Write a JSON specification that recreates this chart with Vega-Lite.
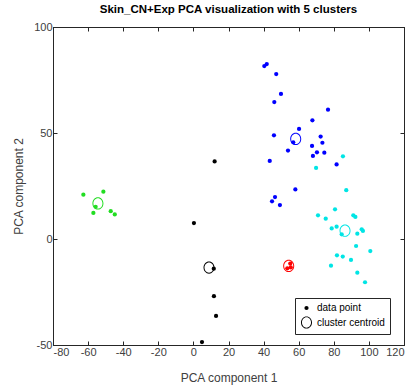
{
  "$schema": "https://vega.github.io/schema/vega-lite/v6.json",
  "autosize": "none",
  "width": 351,
  "height": 318,
  "padding": {"left": 53, "top": 27, "right": 11, "bottom": 43},
  "background": "white",
  "title": {"text": "Skin_CN+Exp PCA visualization with 5 clusters", "font": "Liberation Sans", "fontSize": 11.5, "fontWeight": "bold", "color": "black", "offset": 6},
  "config": {
    "view": {"stroke": "#262626", "strokeWidth": 1},
    "axis": {"grid": false, "domainColor": "#262626", "tickColor": "#262626", "labelFont": "Liberation Sans", "labelFontSize": 11, "labelColor": "#404040", "titleFont": "Liberation Sans", "titleFontSize": 12, "titleFontWeight": "normal", "titleColor": "#404040", "tickSize": -4, "labelPadding": 5}
  },
  "data": {"values": [
    {"x": 40.4, "y": 81.6, "cluster": "blue", "kind": "data point"},
    {"x": 41.8, "y": 82.5, "cluster": "blue", "kind": "data point"},
    {"x": 47.2, "y": 77.8, "cluster": "blue", "kind": "data point"},
    {"x": 49.9, "y": 68.4, "cluster": "blue", "kind": "data point"},
    {"x": 46.1, "y": 64.6, "cluster": "blue", "kind": "data point"},
    {"x": 76.7, "y": 61.0, "cluster": "blue", "kind": "data point"},
    {"x": 67.8, "y": 56.0, "cluster": "blue", "kind": "data point"},
    {"x": 60.2, "y": 51.9, "cluster": "blue", "kind": "data point"},
    {"x": 45.9, "y": 48.9, "cluster": "blue", "kind": "data point"},
    {"x": 56.9, "y": 45.6, "cluster": "blue", "kind": "data point"},
    {"x": 72.5, "y": 48.3, "cluster": "blue", "kind": "data point"},
    {"x": 73.5, "y": 45.4, "cluster": "blue", "kind": "data point"},
    {"x": 67.6, "y": 43.9, "cluster": "blue", "kind": "data point"},
    {"x": 53.9, "y": 41.7, "cluster": "blue", "kind": "data point"},
    {"x": 70.4, "y": 40.9, "cluster": "blue", "kind": "data point"},
    {"x": 74.6, "y": 40.7, "cluster": "blue", "kind": "data point"},
    {"x": 68.1, "y": 39.2, "cluster": "blue", "kind": "data point"},
    {"x": 81.6, "y": 35.2, "cluster": "blue", "kind": "data point"},
    {"x": 43.5, "y": 36.8, "cluster": "blue", "kind": "data point"},
    {"x": 58.1, "y": 23.4, "cluster": "blue", "kind": "data point"},
    {"x": 46.5, "y": 19.8, "cluster": "blue", "kind": "data point"},
    {"x": 44.8, "y": 17.8, "cluster": "blue", "kind": "data point"},
    {"x": 49.3, "y": 16.0, "cluster": "blue", "kind": "data point"},
    {"x": 58.3, "y": 47.2, "cluster": "blue", "kind": "cluster centroid"},
    {"x": 85.2, "y": 39.0, "cluster": "cyan", "kind": "data point"},
    {"x": 69.9, "y": 33.5, "cluster": "cyan", "kind": "data point"},
    {"x": 87.1, "y": 23.0, "cluster": "cyan", "kind": "data point"},
    {"x": 80.7, "y": 14.0, "cluster": "cyan", "kind": "data point"},
    {"x": 71.0, "y": 11.2, "cluster": "cyan", "kind": "data point"},
    {"x": 75.4, "y": 9.6, "cluster": "cyan", "kind": "data point"},
    {"x": 91.1, "y": 11.2, "cluster": "cyan", "kind": "data point"},
    {"x": 92.3, "y": 10.4, "cluster": "cyan", "kind": "data point"},
    {"x": 78.8, "y": 5.0, "cluster": "cyan", "kind": "data point"},
    {"x": 81.6, "y": 5.8, "cluster": "cyan", "kind": "data point"},
    {"x": 84.5, "y": 2.2, "cluster": "cyan", "kind": "data point"},
    {"x": 93.4, "y": 2.5, "cluster": "cyan", "kind": "data point"},
    {"x": 95.9, "y": 4.6, "cluster": "cyan", "kind": "data point"},
    {"x": 96.6, "y": 3.8, "cluster": "cyan", "kind": "data point"},
    {"x": 92.7, "y": -3.3, "cluster": "cyan", "kind": "data point"},
    {"x": 100.8, "y": -5.7, "cluster": "cyan", "kind": "data point"},
    {"x": 81.8, "y": -7.7, "cluster": "cyan", "kind": "data point"},
    {"x": 85.1, "y": -8.3, "cluster": "cyan", "kind": "data point"},
    {"x": 89.8, "y": -9.9, "cluster": "cyan", "kind": "data point"},
    {"x": 78.4, "y": -12.6, "cluster": "cyan", "kind": "data point"},
    {"x": 93.4, "y": -15.9, "cluster": "cyan", "kind": "data point"},
    {"x": 97.8, "y": -20.4, "cluster": "cyan", "kind": "data point"},
    {"x": 86.4, "y": 3.9, "cluster": "cyan", "kind": "cluster centroid"},
    {"x": 55.2, "y": -11.6, "cluster": "red", "kind": "data point"},
    {"x": 53.5, "y": -13.8, "cluster": "red", "kind": "data point"},
    {"x": 55.5, "y": -13.4, "cluster": "red", "kind": "data point"},
    {"x": 54.3, "y": -12.7, "cluster": "red", "kind": "cluster centroid"},
    {"x": -62.7, "y": 20.9, "cluster": "green", "kind": "data point"},
    {"x": -51.3, "y": 22.3, "cluster": "green", "kind": "data point"},
    {"x": -55.7, "y": 15.2, "cluster": "green", "kind": "data point"},
    {"x": -57.0, "y": 12.3, "cluster": "green", "kind": "data point"},
    {"x": -47.1, "y": 13.1, "cluster": "green", "kind": "data point"},
    {"x": -44.8, "y": 11.6, "cluster": "green", "kind": "data point"},
    {"x": -54.4, "y": 16.8, "cluster": "green", "kind": "cluster centroid"},
    {"x": 12.1, "y": 36.6, "cluster": "black", "kind": "data point"},
    {"x": 0.3, "y": 7.5, "cluster": "black", "kind": "data point"},
    {"x": 11.6, "y": -14.0, "cluster": "black", "kind": "data point"},
    {"x": 11.7, "y": -27.0, "cluster": "black", "kind": "data point"},
    {"x": 12.9, "y": -36.3, "cluster": "black", "kind": "data point"},
    {"x": 4.9, "y": -48.6, "cluster": "black", "kind": "data point"},
    {"x": 8.9, "y": -13.5, "cluster": "black", "kind": "cluster centroid"}
  ]},
  "layer": [
    {
      "mark": {"type": "point", "opacity": 0},
      "encoding": {
        "x": {"field": "x", "type": "quantitative", "scale": {"domain": [-80, 120], "nice": false, "zero": false}, "axis": {"orient": "top", "labels": false, "title": null, "values": [-80,-60,-40,-20,0,20,40,60,80,100,120]}},
        "y": {"field": "y", "type": "quantitative", "scale": {"domain": [-50, 100], "nice": false, "zero": false}, "axis": {"orient": "right", "labels": false, "title": null, "values": [-50, 0, 50, 100]}}
      }
    },
    {
      "mark": {"type": "point", "filled": true, "opacity": 1, "strokeWidth": 0},
      "encoding": {
        "x": {"field": "x", "type": "quantitative", "scale": {"domain": [-80, 120], "nice": false, "zero": false}, "axis": {"orient": "bottom", "title": "PCA component 1", "values": [-80,-60,-40,-20,0,20,40,60,80,100,120], "titlePadding": 15, "labelExpr": "'' + datum.value"}},
        "y": {"field": "y", "type": "quantitative", "scale": {"domain": [-50, 100], "nice": false, "zero": false}, "axis": {"orient": "left", "title": "PCA component 2", "values": [-50, 0, 50, 100], "titlePadding": 8, "labelExpr": "'' + datum.value"}},
        "color": {"field": "cluster", "type": "nominal", "scale": {"domain": ["black", "blue", "cyan", "red", "green"], "range": ["#000000", "#0000ff", "#00e5e5", "#ff0000", "#22dd22"]}, "legend": null},
        "size": {"field": "kind", "type": "nominal", "scale": {"domain": ["data point", "cluster centroid"], "range": [18, 150]}, "legend": {"title": null}},
        "shape": {"field": "kind", "type": "nominal", "scale": {"domain": ["data point", "cluster centroid"], "range": ["circle", "M-0.9,0A0.9,1,0,1,1,0.9,0A0.9,1,0,1,1,-0.9,0Z M-0.74,0A0.74,0.84,0,1,0,0.74,0A0.74,0.84,0,1,0,-0.74,0Z"]}, "legend": {
          "title": null, "orient": "none", "legendX": 242, "legendY": 271,
          "strokeColor": "#262626", "fillColor": "white", "padding": 5,
          "symbolFillColor": "black", "symbolStrokeWidth": 0,
          "labelFont": "Liberation Sans", "labelFontSize": 10, "labelColor": "black", "rowPadding": 3
        }},
        "order": {"field": "kind", "type": "nominal", "sort": "descending"}
      }
    }
  ],
  "resolve": {"axis": {"x": "independent", "y": "independent"}}
}
